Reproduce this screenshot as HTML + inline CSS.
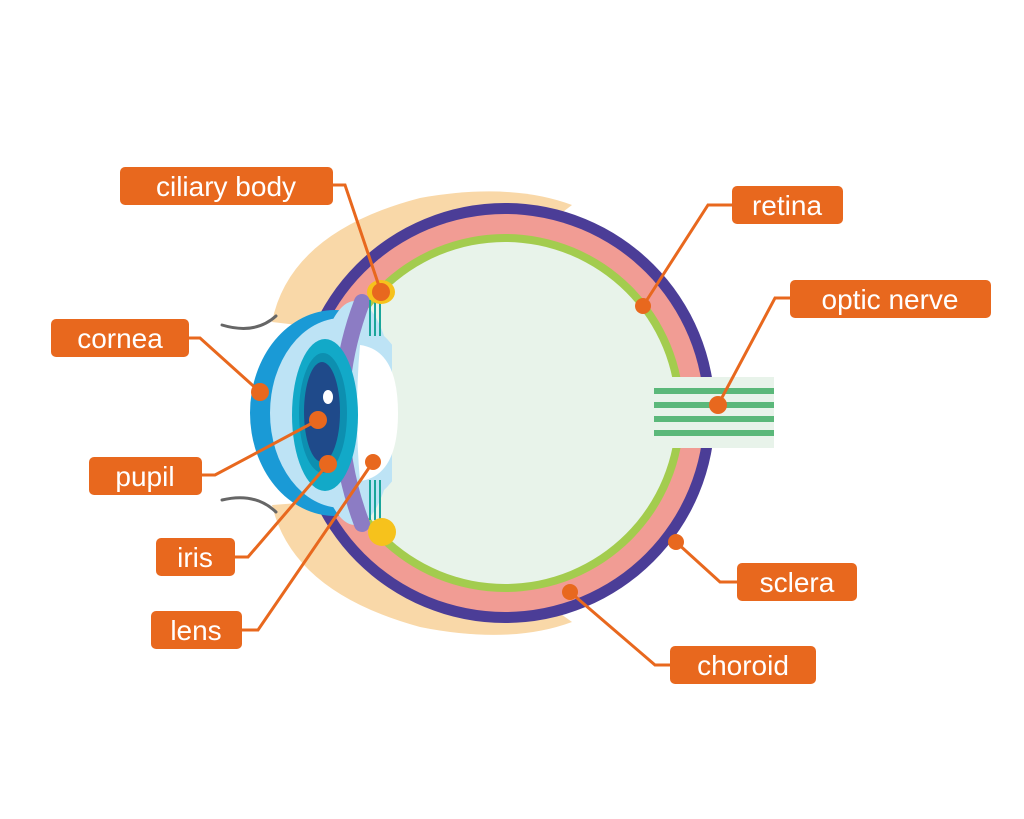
<!DOCTYPE html>
<html><head><meta charset="utf-8"><style>
html,body{margin:0;padding:0;background:#fff;}
svg{display:block}
text{font-family:"Liberation Sans",sans-serif;font-size:28px;fill:#fff;}
</style></head><body>
<svg width="1024" height="819" viewBox="0 0 1024 819" xmlns="http://www.w3.org/2000/svg">
<defs>
<clipPath id="c1"><rect x="0" y="0" width="350" height="819"/></clipPath>
<clipPath id="c2"><rect x="0" y="0" width="392" height="819"/></clipPath>
</defs>
<!-- eyelids -->
<path d="M272,322 Q290,232 420,198 Q510,182 572,205 L500,260 L340,330 Z" fill="#f9d8a8"/>
<path d="M272,505 Q292,592 420,627 Q510,645 572,622 L500,570 L340,500 Z" fill="#f9d8a8"/>
<path d="M222,325 Q255,335 276,316" stroke="#666" stroke-width="3" fill="none" stroke-linecap="round"/>
<path d="M222,500 Q255,492 276,512" stroke="#666" stroke-width="3" fill="none" stroke-linecap="round"/>
<!-- eyeball -->
<circle cx="505" cy="413" r="210" fill="#4b3d97"/>
<circle cx="505" cy="413" r="199" fill="#f19c94"/>
<circle cx="505" cy="413" r="179" fill="#a3cc4e"/>
<circle cx="505" cy="413" r="171" fill="#e8f3ea"/>
<!-- optic nerve -->
<rect x="653" y="377" width="121" height="71" fill="#e8f3ea"/>
<g fill="#5bb87a"><rect x="654" y="388" width="120" height="6"/><rect x="654" y="402" width="120" height="6"/><rect x="654" y="416" width="120" height="6"/><rect x="654" y="430" width="120" height="6"/></g>
<!-- cornea -->
<ellipse cx="335" cy="413" rx="85" ry="103" fill="#1a9ad6" clip-path="url(#c1)"/>
<g clip-path="url(#c2)">
<ellipse cx="342" cy="413" rx="72" ry="95" fill="#bde3f5"/>
<ellipse cx="355" cy="413" rx="40" ry="112" fill="#bde3f5"/>
</g>
<path d="M362,302 Q320,413 362,524" stroke="#8c7cc4" stroke-width="16" fill="none" stroke-linecap="round"/>
<!-- lens -->
<path d="M360,345 Q398,350 398,413 Q398,476 360,481 Q354,413 360,345 Z" fill="#fff"/>
<!-- ciliary -->
<g stroke="#1aa59a" stroke-width="2"><line x1="370" y1="300" x2="370" y2="336"/><line x1="375" y1="300" x2="375" y2="336"/><line x1="380" y1="300" x2="380" y2="336"/>
<line x1="370" y1="480" x2="370" y2="520"/><line x1="375" y1="480" x2="375" y2="520"/><line x1="380" y1="480" x2="380" y2="520"/></g>
<ellipse cx="381" cy="292" rx="14" ry="12" fill="#f6c21c"/>
<ellipse cx="382" cy="532" rx="14" ry="14" fill="#f6c21c"/>
<!-- iris -->
<ellipse cx="325" cy="415" rx="33" ry="76" fill="#12a9c8"/>
<ellipse cx="323" cy="413" rx="24" ry="60" fill="#0d8fb0"/>
<ellipse cx="322" cy="412" rx="18" ry="50" fill="#1f4a8a"/>
<ellipse cx="328" cy="397" rx="5" ry="7" fill="#fff"/>
<!-- connectors -->
<g stroke="#e8681e" stroke-width="3" fill="none">
<polyline points="333,185 345,185 381,292"/>
<polyline points="732,205 708,205 643,306"/>
<polyline points="790,298 775,298 718,405"/>
<polyline points="189,338 200,338 260,392"/>
<polyline points="202,475 215,475 318,420"/>
<polyline points="235,557 248,557 328,464"/>
<polyline points="242,630 258,630 373,462"/>
<polyline points="737,582 720,582 676,542"/>
<polyline points="670,665 655,665 570,592"/>
</g>
<g fill="#e8681e">
<circle cx="381" cy="292" r="9"/><circle cx="643" cy="306" r="8"/><circle cx="718" cy="405" r="9"/>
<circle cx="260" cy="392" r="9"/><circle cx="318" cy="420" r="9"/><circle cx="328" cy="464" r="9"/>
<circle cx="373" cy="462" r="8"/><circle cx="676" cy="542" r="8"/><circle cx="570" cy="592" r="8"/>
<rect x="120" y="167" width="213" height="38" rx="5"/>
<rect x="732" y="186" width="111" height="38" rx="5"/>
<rect x="790" y="280" width="201" height="38" rx="5"/>
<rect x="51" y="319" width="138" height="38" rx="5"/>
<rect x="89" y="457" width="113" height="38" rx="5"/>
<rect x="156" y="538" width="79" height="38" rx="5"/>
<rect x="151" y="611" width="91" height="38" rx="5"/>
<rect x="737" y="563" width="120" height="38" rx="5"/>
<rect x="670" y="646" width="146" height="38" rx="5"/>
</g>
<text x="226" y="196" text-anchor="middle">ciliary body</text>
<text x="787" y="215" text-anchor="middle">retina</text>
<text x="890" y="309" text-anchor="middle">optic nerve</text>
<text x="120" y="348" text-anchor="middle">cornea</text>
<text x="145" y="486" text-anchor="middle">pupil</text>
<text x="195" y="567" text-anchor="middle">iris</text>
<text x="196" y="640" text-anchor="middle">lens</text>
<text x="797" y="592" text-anchor="middle">sclera</text>
<text x="743" y="675" text-anchor="middle">choroid</text>
</svg>
</body></html>
